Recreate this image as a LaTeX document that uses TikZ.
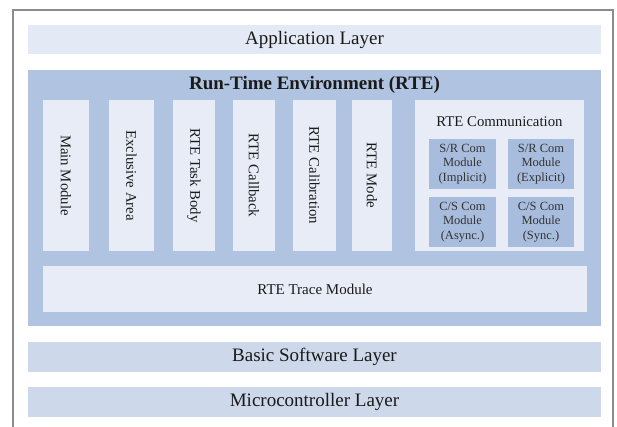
\documentclass[tikz,border=0pt]{standalone}
\usepackage{fontspec}
\setmainfont{Liberation Serif}
\definecolor{frameGray}{HTML}{8C8C8C}
\definecolor{appFill}{HTML}{E4EAF5}
\definecolor{rteFill}{HTML}{B0C4E2}
\definecolor{innerFill}{HTML}{E8ECF7}
\definecolor{subFill}{HTML}{A8BCDD}
\definecolor{lowFill}{HTML}{CDD8EA}
\definecolor{txt}{HTML}{1A1A1A}
\tikzset{
  every node/.style={inner sep=0pt, outer sep=0pt, text=txt},
  layerbox/.style={fill=#1, minimum width=573pt, font=\fontsize{19}{21}\selectfont},
  vbox/.style={fill=innerFill, minimum height=151pt, font=\fontsize{14.5}{16}\selectfont},
  vlabel/.style={rotate=-90, font=\fontsize{14.8}{16}\selectfont},
  subbox/.style={fill=subFill, minimum height=50pt, align=center, text=black!80,
    font=\fontsize{12.5}{14.5}\selectfont},
}
\begin{document}
\begin{tikzpicture}[x=1pt,y=-1pt]
\useasboundingbox (0,0) rectangle (617,427);
\fill[white] (0,0) rectangle (617,427);
\draw[frameGray, line width=1.6pt] (13,440) -- (13,10) -- (613,10) -- (613,440);

\node[layerbox=appFill, minimum height=29pt] (app) at (314.5,39.5) {Application Layer};

\node[fill=rteFill, minimum width=573pt, minimum height=256pt] (rte) at (314.5,198) {};
\node[font=\fontsize{19}{21}\selectfont\bfseries] (rtetitle) at (314.5,85) {Run-Time Environment (RTE)};

\node[vbox, minimum width=46pt] (main) at (66,175.5) {};
\node[vlabel] (mainl) at (main.center) {Main Module};
\node[vbox, minimum width=45pt] (excl) at (131.5,175.5) {};
\node[vlabel] (excll) at (excl.center) {Exclusive Area};
\node[vbox, minimum width=42pt] (task) at (194,175.5) {};
\node[vlabel] (taskl) at (task.center) {RTE Task Body};
\node[vbox, minimum width=42pt] (cb) at (254,175.5) {};
\node[vlabel] (cbl) at (cb.center) {RTE Callback};
\node[vbox, minimum width=43pt] (cal) at (314.5,175.5) {};
\node[vlabel] (call) at (cal.center) {RTE Calibration};
\node[vbox, minimum width=40pt] (mode) at (372,175.5) {};
\node[vlabel] (model) at (mode.center) {RTE Mode};

\node[vbox, minimum width=169pt] (comm) at (499.5,175.5) {};
\node[font=\fontsize{14.8}{16}\selectfont] (commt) at (499.5,122) {RTE Communication};
\node[subbox, minimum width=67pt] (sri) at (462.5,164) {S/R Com\\Module\\(Implicit)};
\node[subbox, minimum width=66pt] (sre) at (541,164) {S/R Com\\Module\\(Explicit)};
\node[subbox, minimum width=67pt] (csa) at (462.5,222) {C/S Com\\Module\\(Async.)};
\node[subbox, minimum width=66pt] (css) at (541,222) {C/S Com\\Module\\(Sync.)};

\node[fill=innerFill, minimum width=544pt, minimum height=46pt, font=\fontsize{15}{17}\selectfont] (trace) at (315,289) {RTE Trace Module};

\node[layerbox=lowFill, minimum height=30pt] (bsw) at (314.5,357) {Basic Software Layer};
\node[layerbox=lowFill, minimum height=30pt] (mcu) at (314.5,402) {Microcontroller Layer};
\end{tikzpicture}
\end{document}
